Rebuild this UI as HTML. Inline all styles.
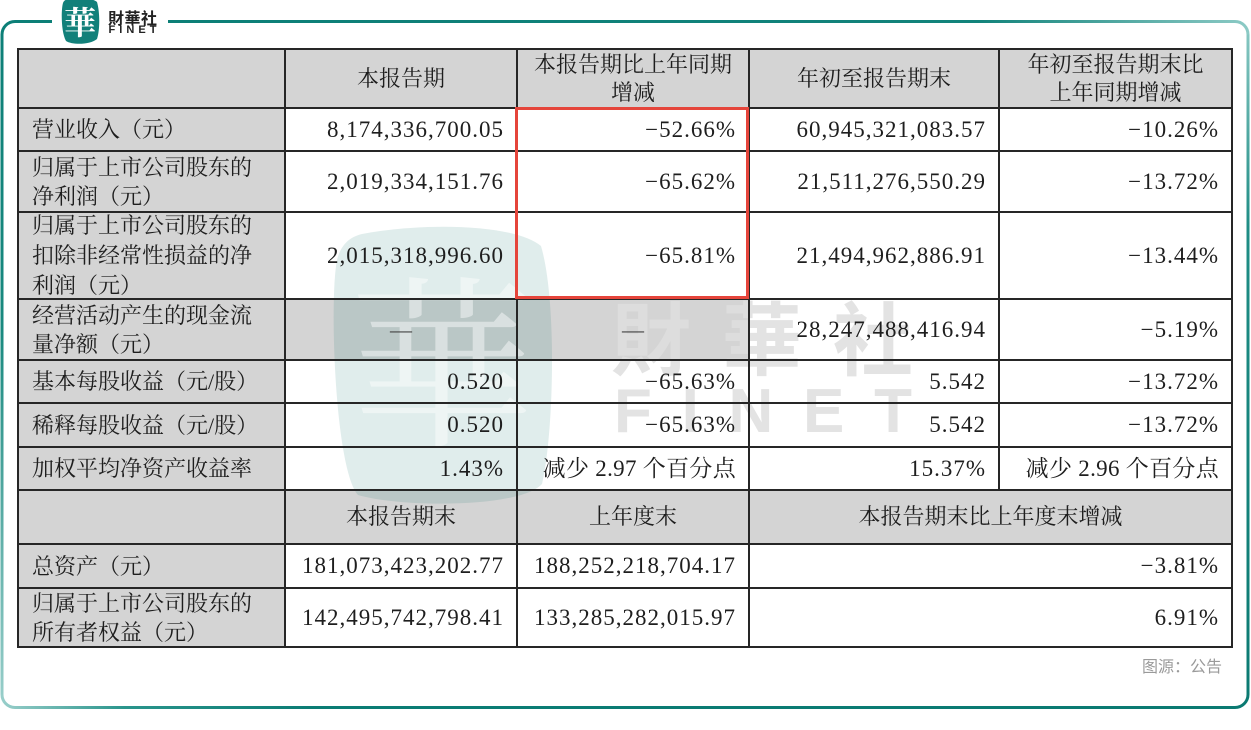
<!DOCTYPE html>
<html><head><meta charset="utf-8">
<style>
*{margin:0;padding:0;box-sizing:border-box}
html,body{width:1251px;height:730px;background:#fff;overflow:hidden}
body{position:relative;font-family:"Liberation Serif","Noto Serif CJK SC",serif;color:#1e1e1e}
.g{position:absolute;background:#d4d4d4}
.h{position:absolute;left:18px;width:1215px;height:1.5px;background:#262626}
.v{position:absolute;width:1.5px;background:#262626}
.c{position:absolute;display:flex;align-items:center;white-space:nowrap}
.l{justify-content:flex-start;padding-left:14px;font-size:22px;line-height:29px;left:18px;width:267px}
.m{justify-content:center;text-align:center;font-size:22px;line-height:28px}
.r{justify-content:flex-end;padding-right:13px;font-size:23px;line-height:28px;letter-spacing:1px}
svg{position:absolute;left:0;top:0}
</style></head><body>

<!-- gray fills -->
<div class="g" style="left:18px;top:49px;width:267px;height:598px"></div>
<div class="g" style="left:285px;top:49px;width:947px;height:59px"></div>
<div class="g" style="left:285px;top:299px;width:464px;height:61px"></div>
<div class="g" style="left:285px;top:490px;width:947px;height:54px"></div>

<!-- watermark -->
<svg width="1251" height="730" viewBox="0 0 1251 730">
  <path d="M362,234 C425,222 515,224 541,246 C557,300 554,432 542,484 C520,508 402,508 358,495 C335,470 329,300 337,260 C341,244 350,237 362,234 Z" fill="rgba(0,110,100,0.12)"/>
  <text x="442" y="432" text-anchor="middle" font-family="Noto Serif CJK SC, serif" font-size="185" fill="rgba(255,255,255,0.45)">華</text>
  <text x="611" y="369" font-family="Noto Sans CJK SC, sans-serif" font-weight="bold" font-size="80" textLength="302" lengthAdjust="spacing" fill="rgba(222,222,222,0.85)">財華社</text>
  <text x="614" y="432" font-family="Liberation Sans, sans-serif" font-weight="bold" font-size="62" textLength="298" lengthAdjust="spacing" fill="rgba(222,222,222,0.85)">FINET</text>
</svg>

<!-- grid lines -->
<div class="h" style="top:48.25px"></div>
<div class="h" style="top:107.25px"></div>
<div class="h" style="top:150.25px"></div>
<div class="h" style="top:211.25px"></div>
<div class="h" style="top:298.25px"></div>
<div class="h" style="top:359.25px"></div>
<div class="h" style="top:402.25px"></div>
<div class="h" style="top:446.25px"></div>
<div class="h" style="top:489.25px"></div>
<div class="h" style="top:543.25px"></div>
<div class="h" style="top:587.25px"></div>
<div class="h" style="top:646.25px"></div>
<div class="v" style="left:17.25px;top:48.25px;height:599.5px"></div>
<div class="v" style="left:284.25px;top:48.25px;height:599.5px"></div>
<div class="v" style="left:516.25px;top:48.25px;height:599.5px"></div>
<div class="v" style="left:748.25px;top:48.25px;height:599.5px"></div>
<div class="v" style="left:998.25px;top:48.25px;height:442px"></div>
<div class="v" style="left:1231.25px;top:48.25px;height:599.5px"></div>

<!-- row 0 header -->
<div class="c m" style="left:285px;top:49px;width:232px;height:59px">本报告期</div>
<div class="c m" style="left:517px;top:49px;width:232px;height:59px">本报告期比上年同期<br>增减</div>
<div class="c m" style="left:749px;top:49px;width:250px;height:59px">年初至报告期末</div>
<div class="c m" style="left:999px;top:49px;width:233px;height:59px">年初至报告期末比<br>上年同期增减</div>

<!-- row 1 -->
<div class="c l" style="top:108px;height:43px">营业收入（元）</div>
<div class="c r" style="left:285px;top:108px;width:232px;height:43px">8,174,336,700.05</div>
<div class="c r" style="left:517px;top:108px;width:232px;height:43px">−52.66%</div>
<div class="c r" style="left:749px;top:108px;width:250px;height:43px">60,945,321,083.57</div>
<div class="c r" style="left:999px;top:108px;width:233px;height:43px">−10.26%</div>

<!-- row 2 -->
<div class="c l" style="top:151px;height:61px">归属于上市公司股东的<br>净利润（元）</div>
<div class="c r" style="left:285px;top:151px;width:232px;height:61px">2,019,334,151.76</div>
<div class="c r" style="left:517px;top:151px;width:232px;height:61px">−65.62%</div>
<div class="c r" style="left:749px;top:151px;width:250px;height:61px">21,511,276,550.29</div>
<div class="c r" style="left:999px;top:151px;width:233px;height:61px">−13.72%</div>

<!-- row 3 -->
<div class="c l" style="top:212px;height:87px;line-height:30px">归属于上市公司股东的<br>扣除非经常性损益的净<br>利润（元）</div>
<div class="c r" style="left:285px;top:212px;width:232px;height:87px">2,015,318,996.60</div>
<div class="c r" style="left:517px;top:212px;width:232px;height:87px">−65.81%</div>
<div class="c r" style="left:749px;top:212px;width:250px;height:87px">21,494,962,886.91</div>
<div class="c r" style="left:999px;top:212px;width:233px;height:87px">−13.44%</div>

<!-- row 4 -->
<div class="c l" style="top:299px;height:61px">经营活动产生的现金流<br>量净额（元）</div>
<div class="c m" style="left:285px;top:299px;width:232px;height:61px;color:#444">—</div>
<div class="c m" style="left:517px;top:299px;width:232px;height:61px;color:#444">—</div>
<div class="c r" style="left:749px;top:299px;width:250px;height:61px">28,247,488,416.94</div>
<div class="c r" style="left:999px;top:299px;width:233px;height:61px">−5.19%</div>

<!-- row 5 -->
<div class="c l" style="top:360px;height:43px">基本每股收益（元/股）</div>
<div class="c r" style="left:285px;top:360px;width:232px;height:43px">0.520</div>
<div class="c r" style="left:517px;top:360px;width:232px;height:43px">−65.63%</div>
<div class="c r" style="left:749px;top:360px;width:250px;height:43px">5.542</div>
<div class="c r" style="left:999px;top:360px;width:233px;height:43px">−13.72%</div>

<!-- row 6 -->
<div class="c l" style="top:403px;height:44px">稀释每股收益（元/股）</div>
<div class="c r" style="left:285px;top:403px;width:232px;height:44px">0.520</div>
<div class="c r" style="left:517px;top:403px;width:232px;height:44px">−65.63%</div>
<div class="c r" style="left:749px;top:403px;width:250px;height:44px">5.542</div>
<div class="c r" style="left:999px;top:403px;width:233px;height:44px">−13.72%</div>

<!-- row 7 -->
<div class="c l" style="top:447px;height:43px">加权平均净资产收益率</div>
<div class="c r" style="left:285px;top:447px;width:232px;height:43px">1.43%</div>
<div class="c r" style="left:517px;top:447px;width:232px;height:43px;letter-spacing:0.3px">减少 2.97 个百分点</div>
<div class="c r" style="left:749px;top:447px;width:250px;height:43px">15.37%</div>
<div class="c r" style="left:999px;top:447px;width:233px;height:43px;letter-spacing:0.3px">减少 2.96 个百分点</div>

<!-- row 8 header -->
<div class="c m" style="left:285px;top:490px;width:232px;height:54px">本报告期末</div>
<div class="c m" style="left:517px;top:490px;width:232px;height:54px">上年度末</div>
<div class="c m" style="left:749px;top:490px;width:483px;height:54px">本报告期末比上年度末增减</div>

<!-- row 9 -->
<div class="c l" style="top:544px;height:44px">总资产（元）</div>
<div class="c r" style="left:285px;top:544px;width:232px;height:44px">181,073,423,202.77</div>
<div class="c r" style="left:517px;top:544px;width:232px;height:44px">188,252,218,704.17</div>
<div class="c r" style="left:749px;top:544px;width:483px;height:44px">−3.81%</div>

<!-- row 10 -->
<div class="c l" style="top:588px;height:59px">归属于上市公司股东的<br>所有者权益（元）</div>
<div class="c r" style="left:285px;top:588px;width:232px;height:59px">142,495,742,798.41</div>
<div class="c r" style="left:517px;top:588px;width:232px;height:59px">133,285,282,015.97</div>
<div class="c r" style="left:749px;top:588px;width:483px;height:59px">6.91%</div>

<!-- red highlight box -->
<div style="position:absolute;left:515px;top:107px;width:234px;height:192px;border:3px solid #e5453b"></div>

<!-- frame + logo -->
<svg width="1251" height="730" viewBox="0 0 1251 730">
  <defs>
    <linearGradient id="gL" gradientUnits="userSpaceOnUse" x1="0" y1="21" x2="0" y2="708">
      <stop offset="0" stop-color="#0c7f77"/><stop offset="0.45" stop-color="#19897f"/><stop offset="1" stop-color="#9acfcb"/>
    </linearGradient>
    <linearGradient id="gB" gradientUnits="userSpaceOnUse" x1="0" y1="0" x2="1248" y2="0">
      <stop offset="0" stop-color="#9acfcb"/><stop offset="0.1" stop-color="#2a958c"/><stop offset="0.25" stop-color="#0b7c74"/><stop offset="1" stop-color="#0b7a72"/>
    </linearGradient>
    <linearGradient id="gR" gradientUnits="userSpaceOnUse" x1="0" y1="21" x2="0" y2="708">
      <stop offset="0" stop-color="#8ccac5"/><stop offset="0.3" stop-color="#1f8d85"/><stop offset="1" stop-color="#0b7a72"/>
    </linearGradient>
    <linearGradient id="gT" gradientUnits="userSpaceOnUse" x1="168" y1="0" x2="1248" y2="0">
      <stop offset="0" stop-color="#0c7f77"/><stop offset="0.75" stop-color="#12837b"/><stop offset="1" stop-color="#8ccac5"/>
    </linearGradient>
  </defs>
  <g fill="none" stroke-width="3">
    <path d="M52,21.5 H15 A13,13 0 0 0 2,34.5 V694.5" stroke="url(#gL)"/>
    <path d="M2,694.5 A13,13 0 0 0 15,707.5 H1235" stroke="url(#gB)"/>
    <path d="M1235,707.5 A13,13 0 0 0 1248,694.5 V34.5" stroke="url(#gR)"/>
    <path d="M1248,34.5 A13,13 0 0 0 1235,21.5 H168" stroke="url(#gT)"/>
  </g>
  <path d="M70,-1 C80,-3 92,-2 97,2 C100,12 100,30 97,39 C90,45 72,45 66,41 C61,32 61,10 63,3 C64,0 67,-1 70,-1 Z" fill="#12807a"/>
  <text x="80" y="34" text-anchor="middle" font-family="Noto Serif CJK SC, serif" font-weight="bold" font-size="32" fill="#fff">華</text>
  <text x="108" y="24" font-family="Noto Sans CJK SC, sans-serif" font-weight="bold" font-size="16" textLength="49" lengthAdjust="spacing" fill="#222">財華社</text>
  <text x="108.5" y="33" font-family="Liberation Sans, sans-serif" font-weight="bold" font-size="11" textLength="48" lengthAdjust="spacing" fill="#222">FINET</text>
  <text x="1142" y="672" font-family="Liberation Sans, Noto Sans CJK SC, sans-serif" font-size="16" fill="#9a9a9a">图源：公告</text>
</svg>
</body></html>
